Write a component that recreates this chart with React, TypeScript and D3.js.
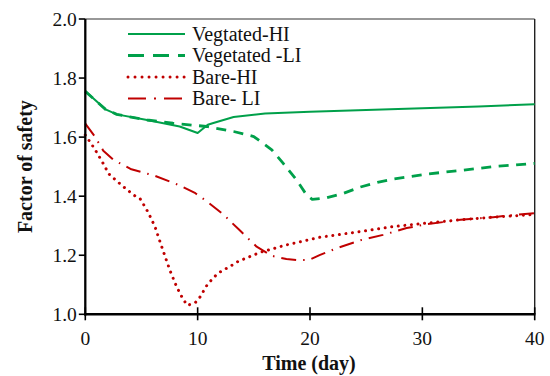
import React from "react";
import * as d3 from "d3";

const vegHIDays = [0, 1.8, 2.8, 5.5, 8.4, 10, 10.9, 11.4, 13.2, 16, 20, 25, 30, 35, 40];
const vegHIVals = [1.755, 1.694, 1.677, 1.658, 1.636, 1.614, 1.642, 1.648, 1.668, 1.68, 1.686, 1.692, 1.698, 1.704, 1.711];

const vegLIDays = [0, 1.8, 2.8, 5.5, 7.8, 10.8, 13.2, 15, 16.6, 17.6, 18.8, 19.7, 20.2, 21.5, 23, 24.5, 26, 27.4, 30.4, 33.4, 36.3, 40];
const vegLIVals = [1.755, 1.694, 1.677, 1.658, 1.647, 1.636, 1.619, 1.602, 1.557, 1.512, 1.455, 1.404, 1.389, 1.395, 1.41, 1.431, 1.447, 1.458, 1.475, 1.487, 1.5, 1.511];

const bareHIDays = [0, 0.4, 0.8, 1.5, 2.1, 3.2, 4.3, 4.9, 5.6, 6.2, 6.65, 7.1, 7.55, 8.1, 8.7, 9.1, 9.8, 10.2, 10.9, 11.8, 13, 13.6, 15.5, 17.9, 20.9, 23.9, 27.4, 30.4, 33.4, 36.3, 40];
const bareHIVals = [1.607, 1.585, 1.562, 1.517, 1.475, 1.438, 1.404, 1.39, 1.345, 1.297, 1.246, 1.196, 1.147, 1.096, 1.051, 1.03, 1.04, 1.058, 1.103, 1.139, 1.165, 1.179, 1.209, 1.235, 1.261, 1.277, 1.297, 1.309, 1.32, 1.329, 1.338];

const bareLIDays = [0, 0.85, 1.6, 2.5, 4.1, 6.2, 8.3, 9.8, 10.8, 12.3, 13.1, 13.7, 15.25, 16.6, 17.9, 18.8, 19.9, 20.9, 22.4, 24.5, 26.5, 28.6, 30.4, 33.4, 36.3, 38.4, 40];
const bareLIVals = [1.646, 1.602, 1.554, 1.523, 1.491, 1.469, 1.438, 1.41, 1.383, 1.338, 1.308, 1.286, 1.229, 1.198, 1.187, 1.184, 1.184, 1.201, 1.224, 1.251, 1.269, 1.292, 1.305, 1.32, 1.329, 1.337, 1.342];

const seriesNames = ["Vegtated-HI", "Vegetated -LI", "Bare-HI", "Bare- LI"];
const xTicks = [0, 10, 20, 30, 40];
const yTicks = [1.0, 1.2, 1.4, 1.6, 1.8, 2.0];

const GREEN = "#00A04A";
const RED = "#C00000";
const FONT = '"Liberation Serif", "Times New Roman", "DejaVu Serif", serif';

export default function App() {
  const x = d3.scaleLinear().domain([0, 40]).range([85.3, 534.7]);
  const y = d3.scaleLinear().domain([1.0, 2.0]).range([314.3, 19]);
  const line = d3
    .line<[number, number]>()
    .x((d) => x(d[0]))
    .y((d) => y(d[1]));
  const zip = (a: number[], b: number[]) => a.map((v, i) => [v, b[i]] as [number, number]);

  const series = [
    { name: seriesNames[0], data: zip(vegHIDays, vegHIVals), color: GREEN, width: 2, dash: undefined as string | undefined, cap: "butt", legDash: undefined as string | undefined },
    { name: seriesNames[1], data: zip(vegLIDays, vegLIVals), color: GREEN, width: 2.8, dash: "10 7.5", cap: "butt", legDash: "16 9" },
    { name: seriesNames[2], data: zip(bareHIDays, bareHIVals), color: RED, width: 3, dash: "0.01 6.6", cap: "round", legDash: "0.01 7" },
    { name: seriesNames[3], data: zip(bareLIDays, bareLIVals), color: RED, width: 2, dash: "15 7 1.5 7", cap: "butt", legDash: "18 8 2 8" },
  ];

  const legY = [34, 55.5, 77, 98.5];
  const ts = { fontFamily: FONT } as React.CSSProperties;

  return (
    <svg width={550} height={376} style={{ position: "absolute", left: 0, top: 0, background: "#fff", fontFamily: FONT }}>
      <rect x={0} y={0} width={550} height={376} fill="#fff" />
      <line x1={x(0)} x2={x(40)} y1={y(2)} y2={y(2)} stroke="#333" strokeWidth={1.2} />
      <line x1={x(40)} x2={x(40)} y1={y(2)} y2={y(1)} stroke="#222" strokeWidth={1.4} />
      {series.map((s, i) => (
        <path
          key={i}
          d={line(s.data) || ""}
          fill="none"
          stroke={s.color}
          strokeWidth={s.width}
          strokeDasharray={s.dash}
          strokeLinecap={s.cap as any}
          strokeLinejoin="round"
        />
      ))}
      <line x1={x(0)} x2={x(0)} y1={y(2)} y2={y(1) + 1.2} stroke="#000" strokeWidth={2.3} />
      <line x1={x(0) - 1.1} x2={x(40) + 0.7} y1={y(1)} y2={y(1)} stroke="#000" strokeWidth={2.6} />
      {yTicks.map((t) => (
        <g key={"y" + t}>
          <line x1={x(0) - 6.5} x2={x(0)} y1={y(t)} y2={y(t)} stroke="#000" strokeWidth={1.6} />
          <text x={x(0) - 8.5} y={y(t)} dy="0.34em" textAnchor="end" fontSize={19.5} fill="#111" style={ts}>
            {t.toFixed(1)}
          </text>
        </g>
      ))}
      {xTicks.map((t) => (
        <g key={"x" + t}>
          <line x1={x(t)} x2={x(t)} y1={y(1) - 7} y2={y(1) + 6} stroke="#000" strokeWidth={1.6} />
          <text x={x(t)} y={345} textAnchor="middle" fontSize={19.5} fill="#111" style={ts}>
            {t}
          </text>
        </g>
      ))}
      <text x={309} y={370} textAnchor="middle" fontSize={20} fontWeight="bold" fill="#111" style={ts}>
        Time (day)
      </text>
      <text transform={`translate(32,${(y(1) + y(2)) / 2}) rotate(-90)`} textAnchor="middle" fontSize={20} fontWeight="bold" fill="#111" style={ts}>
        Factor of safety
      </text>
      {series.map((s, i) => (
        <g key={"l" + i}>
          <line
            x1={128}
            x2={185}
            y1={legY[i]}
            y2={legY[i]}
            stroke={s.color}
            strokeWidth={s.width}
            strokeDasharray={s.legDash}
            strokeLinecap={s.cap as any}
          />
          <text x={192} y={legY[i] + 6.5} fontSize={20} fill="#111" style={ts}>
            {s.name}
          </text>
        </g>
      ))}
    </svg>
  );
}
